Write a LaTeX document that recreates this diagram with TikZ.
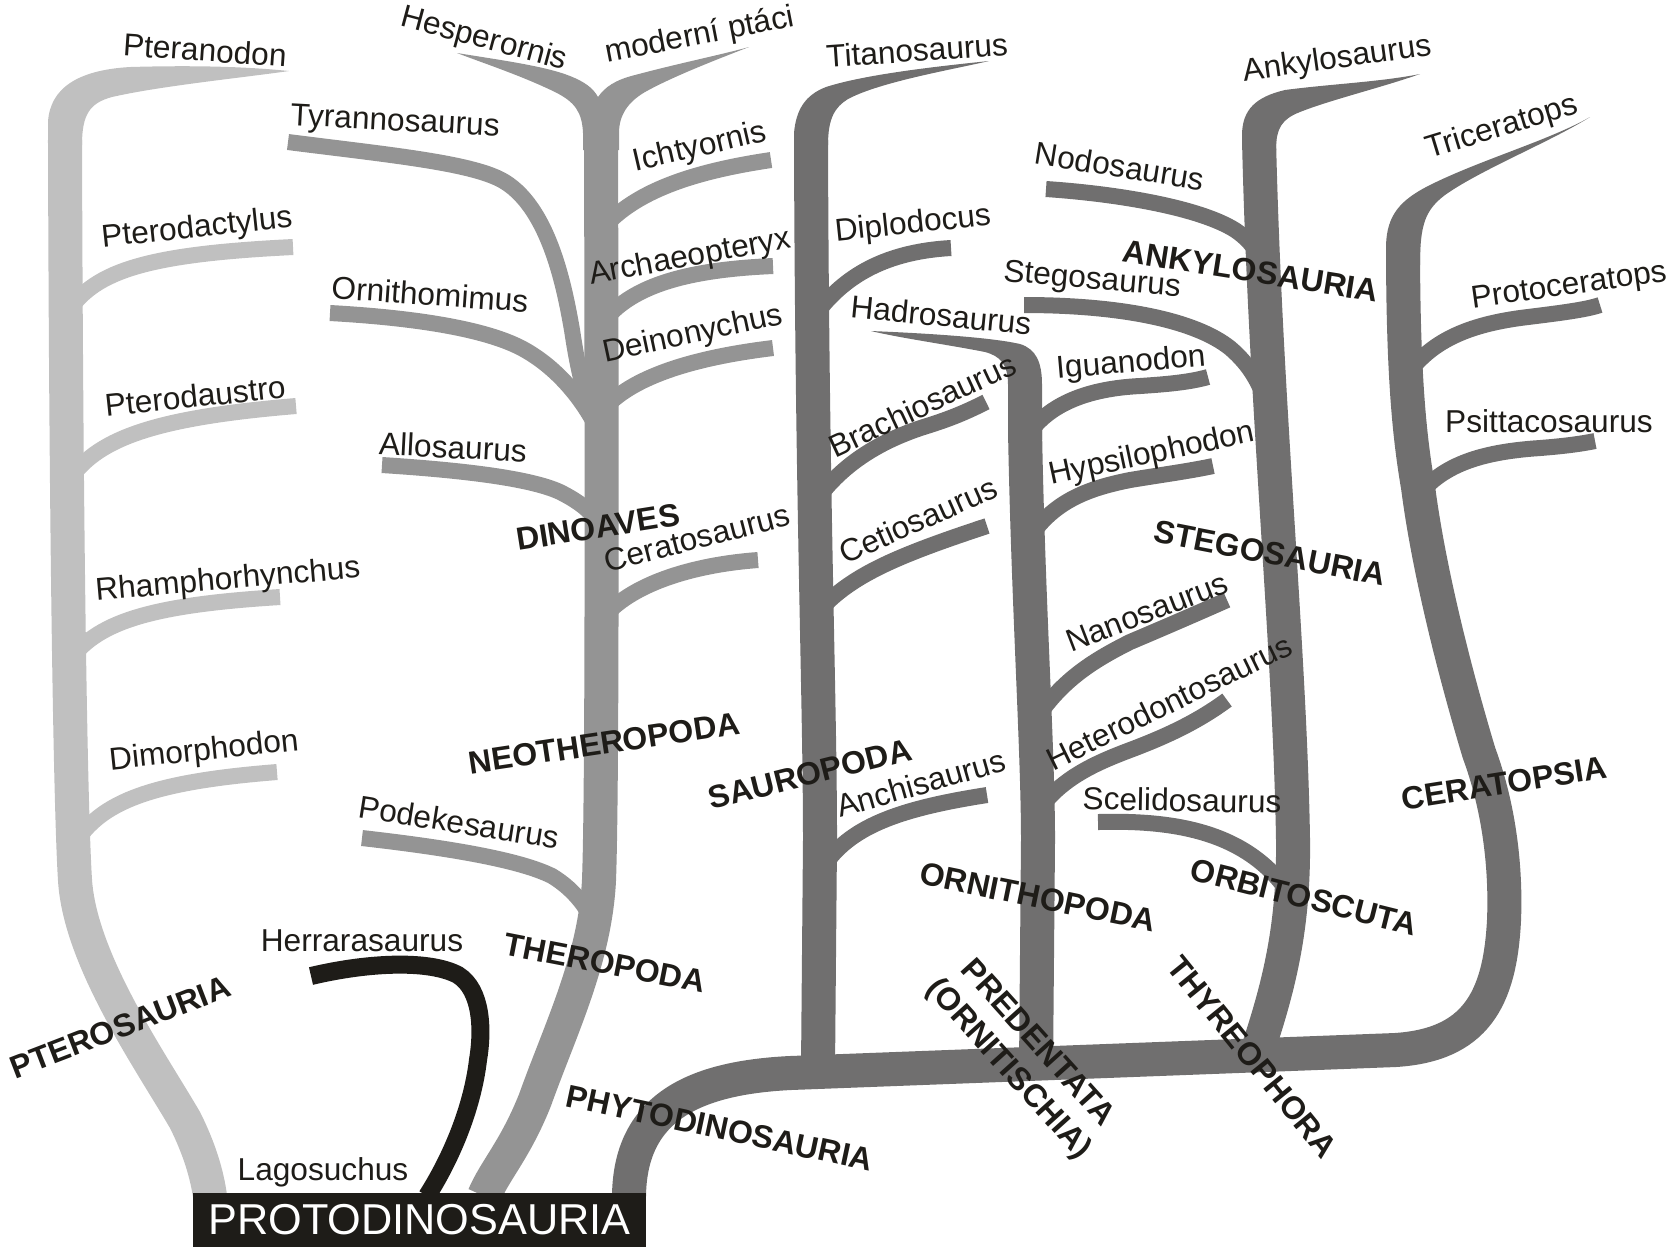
\documentclass[tikz,border=0pt]{standalone}
\usepackage{fontspec}
\setmainfont{Liberation Sans}
\definecolor{pterogray}{RGB}{192,192,192}
\definecolor{therogray}{RGB}{148,148,148}
\definecolor{phytogray}{RGB}{112,111,111}
\definecolor{herreblack}{RGB}{30,28,24}
\definecolor{labeltext}{RGB}{30,28,24}
\begin{document}
\begin{tikzpicture}[
    x=0.01cm, y=-0.01cm,
    trunk/.style={line width=3.4mm, line cap=butt},
    twig/.style={line width=1.6mm, line cap=butt},
    taxon/.style={font=\fontsize{9}{10}\selectfont, text=labeltext, inner sep=0pt},
    clade/.style={font=\fontsize{9.1}{11}\selectfont\bfseries, text=labeltext, inner sep=0pt, align=center}
]
    \useasboundingbox (0,0) rectangle (1680,1247);

    % Pterosauria
    \fill[pterogray] (48,145) -- (48,122) .. controls (50,88) and (78,70) .. (130,67) .. controls (200,65) and (250,67) .. (289,71) .. controls (240,78) and (160,86) .. (112,97) .. controls (90,103) and (82,114) .. (82,145) -- cycle;
    \draw[trunk, pterogray] (65,140) .. controls (66,500) and (70,800) .. (75,880) .. controls (80,960) and (150,1060) .. (185,1120) .. controls (200,1150) and (207,1175) .. (210,1196);
    \draw[twig, pterogray] (68,312) .. controls (95,270) and (150,254) .. (293,247);
    \draw[twig, pterogray] (68,482) .. controls (95,440) and (150,418) .. (296,406);
    \draw[twig, pterogray] (68,663) .. controls (95,622) and (150,605) .. (280,597);
    \draw[twig, pterogray] (74,845) .. controls (100,802) and (150,782) .. (277,772);

    % Theropoda
    \fill[therogray] (583,150) -- (583,133) .. controls (582,112) and (575,102) .. (555,92) .. controls (520,75) and (480,62) .. (457,53) .. controls (500,60) and (545,66) .. (570,76) .. controls (585,82) and (593,88) .. (598,97) .. controls (605,87) and (615,80) .. (635,75) .. controls (680,63) and (720,55) .. (749,47) .. controls (710,62) and (670,78) .. (645,92) .. controls (628,102) and (619,115) .. (619,133) -- (619,150) -- cycle;
    \draw[trunk, therogray] (601,140) .. controls (602,500) and (602,800) .. (599,880) .. controls (595,960) and (560,1030) .. (535,1100) .. controls (515,1150) and (495,1170) .. (484,1196);
    \draw[twig, therogray] (288,142) .. controls (390,155) and (475,163) .. (505,182) .. controls (550,210) and (565,290) .. (572,330) .. controls (578,370) and (585,400) .. (597,428);
    \draw[twig, therogray] (330,313) .. controls (420,318) and (490,330) .. (525,350) .. controls (555,367) and (580,395) .. (597,428);
    \draw[twig, therogray] (382,465) .. controls (460,470) and (530,478) .. (560,492) .. controls (580,502) and (592,512) .. (600,525);
    \draw[twig, therogray] (362,838) .. controls (450,848) and (520,860) .. (552,876) .. controls (575,890) and (590,910) .. (599,935);
    \draw[twig, therogray] (603,228) .. controls (635,192) and (690,172) .. (771,160);
    \draw[twig, therogray] (603,322) .. controls (630,288) and (680,270) .. (773,266);
    \draw[twig, therogray] (603,410) .. controls (630,378) and (690,358) .. (773,348);
    \draw[twig, therogray] (603,618) .. controls (630,585) and (690,565) .. (758,560);

    % Herrerasaurus
    \draw[line width=1.8mm, herreblack] (311,976) .. controls (370,962) and (430,960) .. (458,975) .. controls (482,990) and (483,1030) .. (478,1060) .. controls (472,1110) and (450,1160) .. (427,1196);

    % Phytodinosauria
    \draw[trunk, phytogray] (629,1196) .. controls (630,1110) and (690,1078) .. (790,1073) -- (1395,1050) .. controls (1475,1045) and (1500,1000) .. (1504,920) .. controls (1506,870) and (1500,810) .. (1479,753) .. controls (1460,690) and (1430,580) .. (1418,487) .. controls (1410,440) and (1403,380) .. (1403,245);

    % Sauropoda
    \fill[phytogray] (794,145) -- (794,133) .. controls (796,110) and (805,95) .. (826,87) .. controls (860,76) and (920,68) .. (989,61) .. controls (950,70) and (880,82) .. (848,99) .. controls (835,107) and (828,118) .. (828,145) -- cycle;
    \draw[trunk, phytogray] (811,140) .. controls (812,500) and (820,700) .. (820,840) -- (818,1068);
    \draw[twig, phytogray] (813,318) .. controls (840,280) and (880,252) .. (951,248);
    \draw[twig, phytogray] (813,505) .. controls (840,465) and (880,440) .. (930,425) .. controls (955,417) and (970,410) .. (986,402);
    \draw[twig, phytogray] (813,618) .. controls (845,578) and (890,558) .. (987,526);
    \draw[twig, phytogray] (820,872) .. controls (845,830) and (890,810) .. (987,795);

    % Ornithopoda
    \fill[phytogray] (1008,440) -- (1008,385) .. controls (1008,364) and (1000,356) .. (985,352) .. controls (950,345) and (900,338) .. (871,331) .. controls (920,333) and (990,337) .. (1020,344) .. controls (1036,349) and (1042,362) .. (1042,385) -- (1042,440) -- cycle;
    \draw[trunk, phytogray] (1025,430) .. controls (1028,600) and (1038,750) .. (1038,840) -- (1036,1068);
    \draw[twig, phytogray] (1030,432) .. controls (1055,398) and (1100,388) .. (1140,386) .. controls (1170,384) and (1190,382) .. (1208,377);
    \draw[twig, phytogray] (1030,537) .. controls (1055,500) and (1090,488) .. (1130,480) .. controls (1160,475) and (1190,471) .. (1213,466);
    \draw[twig, phytogray] (1034,722) .. controls (1060,682) and (1090,662) .. (1130,642) .. controls (1170,625) and (1200,612) .. (1227,600);
    \draw[twig, phytogray] (1037,812) .. controls (1060,780) and (1090,765) .. (1130,750) .. controls (1170,735) and (1200,720) .. (1227,700);

    % Thyreophora
    \fill[phytogray] (1242,150) -- (1242,133) .. controls (1243,110) and (1255,97) .. (1285,90) .. controls (1330,84) and (1380,82) .. (1420,74) .. controls (1380,88) and (1330,100) .. (1300,112) .. controls (1282,119) and (1276,128) .. (1276,150) -- cycle;
    \draw[trunk, phytogray] (1259,140) .. controls (1265,400) and (1290,650) .. (1293,840) .. controls (1294,930) and (1278,990) .. (1255,1058);
    \draw[twig, phytogray] (1046,189) .. controls (1120,194) and (1200,208) .. (1235,230) .. controls (1250,240) and (1258,252) .. (1266,268);
    \draw[twig, phytogray] (1024,305) .. controls (1120,305) and (1195,320) .. (1230,348) .. controls (1250,365) and (1262,385) .. (1271,418);
    \draw[twig, phytogray] (1098,822) .. controls (1170,820) and (1240,830) .. (1283,885);

    % Ceratopsia
    \fill[phytogray] (1386,265) -- (1386,245) .. controls (1387,215) and (1400,200) .. (1430,185) .. controls (1480,160) and (1550,140) .. (1590,117) .. controls (1550,142) and (1480,170) .. (1445,195) .. controls (1425,210) and (1420,225) .. (1420,265) -- cycle;
    \draw[twig, phytogray] (1405,378) .. controls (1430,340) and (1470,325) .. (1520,318) .. controls (1560,313) and (1585,310) .. (1600,305);
    \draw[twig, phytogray] (1415,500) .. controls (1440,465) and (1480,452) .. (1540,448) .. controls (1565,446) and (1580,444) .. (1595,441);

    % Rody
    \node[taxon, rotate=-4] (pteranodon) at (205,50) {Pteranodon};
    \node[taxon, rotate=-15] (hesperornis) at (484,40) {Hesperornis};
    \node[taxon, rotate=11] (ptaci) at (700,36) {moderní ptáci};
    \node[taxon, rotate=4] (titanosaurus) at (917,50) {Titanosaurus};
    \node[taxon, rotate=8] (ankylosaurus) at (1337,60) {Ankylosaurus};
    \node[taxon, rotate=17] (triceratops) at (1502,128) {Triceratops};
    \node[taxon, rotate=-3] (tyrannosaurus) at (395,123) {Tyrannosaurus};
    \node[taxon, rotate=13] (ichtyornis) at (700,148) {Ichtyornis};
    \node[taxon, rotate=-9] (nodosaurus) at (1120,166) {Nodosaurus};
    \node[taxon, rotate=6] (pterodactylus) at (197,229) {Pterodactylus};
    \node[taxon, rotate=6] (diplodocus) at (913,225) {Diplodocus};
    \node[taxon, rotate=10.5] (archaeopteryx) at (690,258) {Archaeopteryx};
    \node[taxon, rotate=-5] (stegosaurus) at (1092,281) {Stegosaurus};
    \node[taxon, rotate=-5.5] (hadrosaurus) at (941,315) {Hadrosaurus};
    \node[taxon, rotate=-4] (ornithomimus) at (430,294) {Ornithomimus};
    \node[taxon, rotate=8] (protoceratops) at (1569,287) {Protoceratops};
    \node[taxon, rotate=12] (deinonychus) at (693,335) {Deinonychus};
    \node[taxon, rotate=5] (iguanodon) at (1131,364) {Iguanodon};
    \node[taxon, rotate=6] (pterodaustro) at (195,396) {Pterodaustro};
    \node[taxon, rotate=25] (brachiosaurus) at (922,405) {Brachiosaurus};
    \node[taxon] (psittacosaurus) at (1549,421) {Psittacosaurus};
    \node[taxon, rotate=-3] (allosaurus) at (453,447) {Allosaurus};
    \node[taxon, rotate=12] (hypsilophodon) at (1152,455) {Hypsilophodon};
    \node[taxon, rotate=14.5] (ceratosaurus) at (697,538) {Ceratosaurus};
    \node[taxon, rotate=24] (cetiosaurus) at (918,520) {Cetiosaurus};
    \node[taxon, rotate=5] (rhamphorhynchus) at (228,581) {Rhamphorhynchus};
    \node[taxon, rotate=21] (nanosaurus) at (1147,612) {Nanosaurus};
    \node[taxon, rotate=26] (heterodontosaurus) at (1169,702) {Heterodontosaurus};
    \node[taxon, rotate=6] (dimorphodon) at (204,752) {Dimorphodon};
    \node[taxon, rotate=16] (anchisaurus) at (921,783) {Anchisaurus};
    \node[taxon, rotate=-1] (scelidosaurus) at (1182,800) {Scelidosaurus};
    \node[taxon, rotate=-9] (podekesaurus) at (459,822) {Podekesaurus};
    \node[taxon] (herrerasaurus) at (362,941) {Herrarasaurus};
    \node[taxon] (lagosuchus) at (323,1172) {Lagosuchus};

    % Klady
    \node[clade, rotate=9] (dinoaves) at (598,527) {DINOAVES};
    \node[clade, rotate=-11] (stegosauria) at (1270,553) {STEGOSAURIA};
    \node[clade, rotate=-9] (ankylosauria) at (1251,271) {ANKYLOSAURIA};
    \node[clade, rotate=8.5] (neotheropoda) at (604,743) {NEOTHEROPODA};
    \node[clade, rotate=14] (sauropoda) at (810,774) {SAUROPODA};
    \node[clade, rotate=9] (ceratopsia) at (1504,783) {CERATOPSIA};
    \node[clade, rotate=-11.5] (ornithopoda) at (1038,897) {ORNITHOPODA};
    \node[clade, rotate=-14] (orbitoscuta) at (1304,897) {ORBITOSCUTA};
    \node[clade, rotate=-11] (theropoda) at (605,963) {THEROPODA};
    \node[clade, rotate=21] (pterosauria) at (120,1027) {PTEROSAURIA};
    \node[clade, rotate=-48] (predentata) at (1022,1057) {PREDENTATA\\(ORNITISCHIA)};
    \node[clade, rotate=-51] (thyreophora) at (1252,1057) {THYREOPHORA};
    \node[clade, rotate=-12] (phytodino) at (720,1128) {PHYTODINOSAURIA};

    % Koren
    \node[fill=herreblack, text=white, font=\fontsize{12.3}{14}\selectfont, minimum width=4.53cm, minimum height=0.54cm, inner sep=0pt] (protodino) at (419.5,1220) {PROTODINOSAURIA};
\end{tikzpicture}
\end{document}
